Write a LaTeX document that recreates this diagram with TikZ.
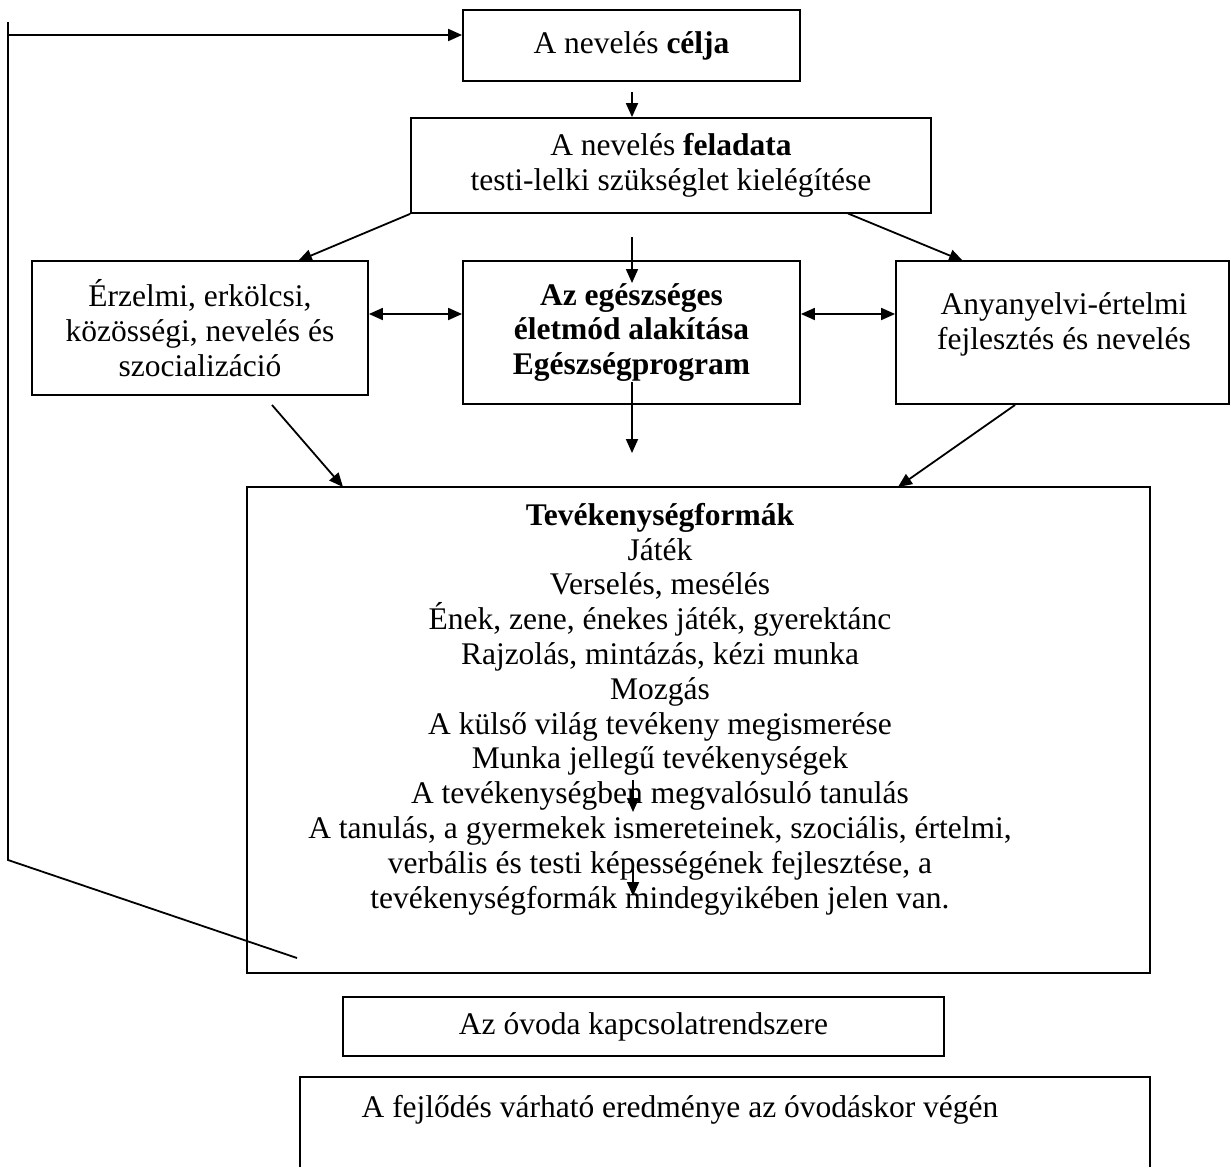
\documentclass[tikz,border=0pt]{standalone}
\usepackage{fontspec}
\setmainfont{Liberation Serif}
\usetikzlibrary{arrows.meta}
\begin{document}
\begin{tikzpicture}[x=1pt,y=-1pt,
  every node/.style={font=\fontsize{31.5}{34.8}\selectfont, inner sep=0pt},
  box/.style={draw, line width=1.8pt, align=center},
  txt/.style={align=center},
  ln/.style={line width=1.8pt},
  arr/.style={line width=1.8pt, -{Triangle[length=14pt,width=12pt]}},
  darr/.style={line width=1.8pt, {Triangle[length=14pt,width=12pt]}-{Triangle[length=14pt,width=12pt]}}]
\useasboundingbox (0,0) rectangle (1231,1167);
\fill[white] (0,0) rectangle (1231,1167);

\node[box, minimum width=337pt, minimum height=71pt] (celja) at (631.5,45.5) {A nevelés \textbf{célja}};
\node[box, minimum width=520pt, minimum height=95pt] (feladat) at (671,165.5) {A nevelés \textbf{feladata}\\testi-lelki szükséglet kielégítése};
\node[box, minimum width=336pt, minimum height=134pt] (erz) at (200,328) {Érzelmi, erkölcsi,\\közösségi, nevelés és\\szocializáció};
\node[box, minimum width=337pt, minimum height=143pt, font=\fontsize{31.5}{34.8}\selectfont\bfseries] (egesz) at (631.5,332.5) {Az egészséges\\életmód alakítása\\Egészségprogram};
\node[box, minimum width=333pt, minimum height=143pt] (anya) at (1062.5,332.5) {};
\node[txt] (anyatext) at (1064,324) {Anyanyelvi-értelmi\\fejlesztés és nevelés};
\node[box, minimum width=903pt, minimum height=486pt] (tev) at (698.5,730) {};
\node[txt, anchor=north] (tevtext) at (660,503) {\textbf{Tevékenységformák}\\Játék\\Verselés, mesélés\\Ének, zene, énekes játék, gyerektánc\\Rajzolás, mintázás, kézi munka\\Mozgás\\A külső világ tevékeny megismerése\\Munka jellegű tevékenységek\\A tevékenységben megvalósuló tanulás\\A tanulás, a gyermekek ismereteinek, szociális, értelmi,\\verbális és testi képességének fejlesztése, a\\tevékenységformák mindegyikében jelen van.};
\node[box, minimum width=601pt, minimum height=59pt] (kapcs) at (643.5,1026.5) {Az óvoda kapcsolatrendszere};
\node (fejl) at (680,1110) {A fejlődés várható eredménye az óvodáskor végén};
\draw[ln] (300,1167) -- (300,1077) -- (1150,1077) -- (1150,1167);

% return line
\coordinate (r1) at (297,958);
\coordinate (r2) at (8,860);
\coordinate (r3) at (8,22);
\draw[ln] (r1) -- (r2) -- (r3);
\coordinate (r4) at (8,35);
\draw[arr] (r4) -- (r4 -| celja.west);

% top arrows
\coordinate (a1) at (632,92);
\draw[arr] (a1) -- (a1 |- feladat.north);
\coordinate (t1) at (298,261);
\draw[arr] (feladat.south west) -- (t1);
\coordinate (s2) at (848,213.5);
\coordinate (t2) at (963,261);
\draw[arr] (s2) -- (t2);
\coordinate (s3) at (632,237);
\coordinate (t3) at (632,283);
\draw[arr] (s3) -- (t3);

% double arrows
\coordinate (d1) at (0,314);
\draw[darr] (erz.east |- d1) -- (egesz.west |- d1);
\draw[darr] (egesz.east |- d1) -- (anya.west |- d1);

% arrows into activity box
\coordinate (s4) at (632,382);
\coordinate (t4) at (632,453);
\draw[arr] (s4) -- (t4);
\coordinate (s5) at (272,405);
\coordinate (t5) at (343,487);
\draw[arr] (s5) -- (t5);
\coordinate (s6) at (1015,405);
\coordinate (t6) at (898,487);
\draw[arr] (s6) -- (t6);

% small arrows inside
\coordinate (s7) at (633,780);
\coordinate (t7) at (633,812);
\draw[arr] (s7) -- (t7);
\coordinate (s8) at (633,868);
\coordinate (t8) at (633,896);
\draw[arr] (s8) -- (t8);
\end{tikzpicture}
\end{document}
